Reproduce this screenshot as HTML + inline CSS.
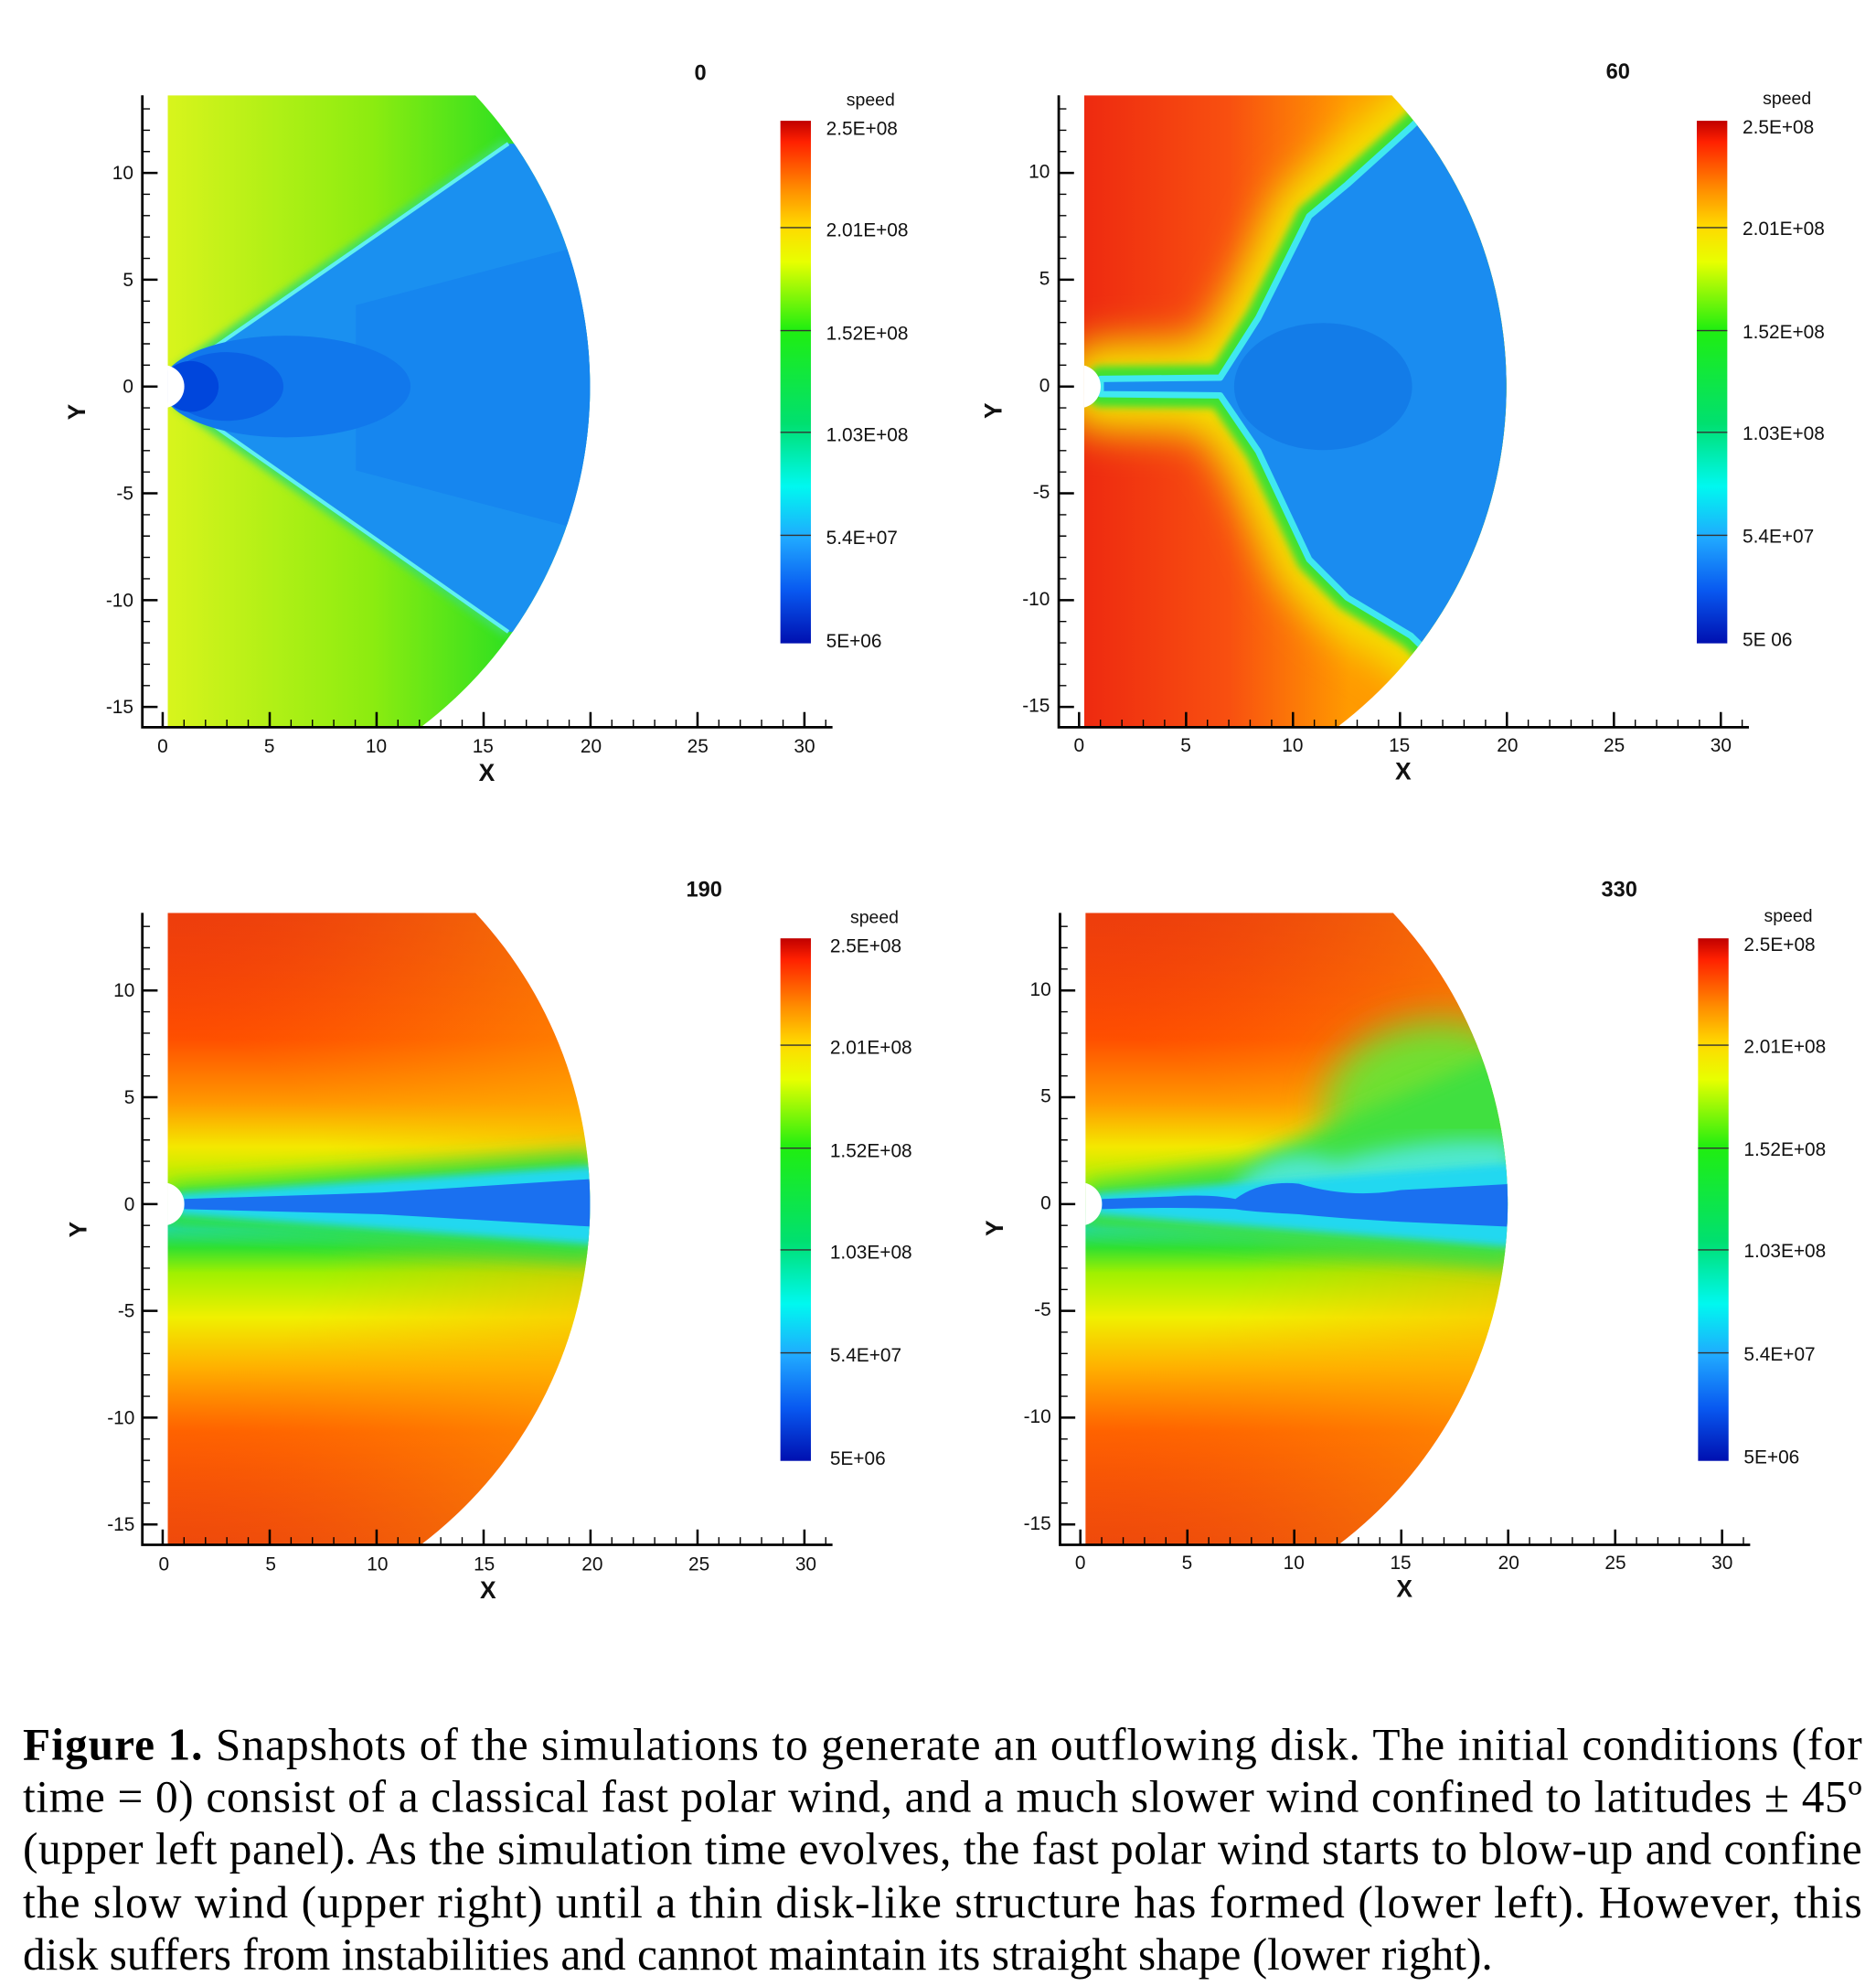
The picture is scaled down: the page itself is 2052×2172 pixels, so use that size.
<!DOCTYPE html>
<html><head><meta charset="utf-8"><style>html,body{margin:0;padding:0;background:#fff}svg{display:block}</style></head><body>
<svg xmlns="http://www.w3.org/2000/svg" width="2052" height="2172" viewBox="0 0 1476 1562" preserveAspectRatio="none" font-family="Liberation Sans, sans-serif">
<defs>
<clipPath id="clip"><path d="M132,75 L374,75 A336,336 0 0 1 331,572 L132,572 Z"/></clipPath>
<filter id="b3" x="-20%" y="-20%" width="140%" height="140%"><feGaussianBlur stdDeviation="3"/></filter>
<filter id="b8" x="-20%" y="-20%" width="140%" height="140%"><feGaussianBlur stdDeviation="8"/></filter>
<filter id="b15" x="-30%" y="-30%" width="160%" height="160%"><feGaussianBlur stdDeviation="15"/></filter>
<linearGradient id="cb" x1="0" y1="0" x2="0" y2="1">
<stop offset="0" stop-color="#c00000"/><stop offset="0.04" stop-color="#ff2000"/><stop offset="0.13" stop-color="#ff8c00"/><stop offset="0.2" stop-color="#ffd800"/><stop offset="0.27" stop-color="#e8ff00"/><stop offset="0.4" stop-color="#20ee10"/><stop offset="0.58" stop-color="#00e070"/><stop offset="0.7" stop-color="#00f8f0"/><stop offset="0.8" stop-color="#20a8ff"/><stop offset="0.9" stop-color="#0858f0"/><stop offset="1" stop-color="#0010b0"/></linearGradient>
<linearGradient id="g1" gradientUnits="userSpaceOnUse" x1="132" y1="0" x2="400" y2="0"><stop offset="0" stop-color="#d8f41c"/><stop offset="0.6" stop-color="#8cec10"/><stop offset="1" stop-color="#30e020"/></linearGradient>
<linearGradient id="g2" gradientUnits="userSpaceOnUse" x1="132" y1="0" x2="340" y2="0"><stop offset="0" stop-color="#ee2a10"/><stop offset="0.55" stop-color="#f85010"/><stop offset="1" stop-color="#ff9a00"/></linearGradient>
<linearGradient id="g3" gradientUnits="userSpaceOnUse" x1="0" y1="75" x2="0" y2="572">
<stop offset="0" stop-color="#e82010"/><stop offset="0.2" stop-color="#ff5000"/><stop offset="0.3" stop-color="#ff9800"/><stop offset="0.37" stop-color="#f4e800"/><stop offset="0.43" stop-color="#b0f000"/><stop offset="0.47" stop-color="#30e030"/><stop offset="0.5" stop-color="#20d8a0"/><stop offset="0.53" stop-color="#30e030"/><stop offset="0.57" stop-color="#a0f000"/><stop offset="0.64" stop-color="#f0f000"/><stop offset="0.72" stop-color="#ffb000"/><stop offset="0.82" stop-color="#ff5a00"/><stop offset="1" stop-color="#e82010"/></linearGradient>
<radialGradient id="rY" gradientUnits="userSpaceOnUse" cx="128" cy="304" r="340"><stop offset="0.4" stop-color="#ffb000" stop-opacity="0"/><stop offset="1" stop-color="#ffb000" stop-opacity="0.45"/></radialGradient>
<g id="ticks" stroke="#000" fill="none">
<path d="M112,75 V572 H655" stroke-width="2"/>
<path d="M128,572V560M212.2,572V560M296.3,572V560M380.5,572V560M464.6,572V560M548.8,572V560M632.9,572V560M112,136H124M112,220H124M112,304H124M112,388H124M112,472H124M112,556H124" stroke-width="1.8"/>
<path d="M144.8,572v-6M161.7,572v-6M178.5,572v-6M195.3,572v-6M229,572v-6M245.8,572v-6M262.6,572v-6M279.5,572v-6M313.1,572v-6M330,572v-6M346.8,572v-6M363.6,572v-6M397.3,572v-6M414.1,572v-6M430.9,572v-6M447.8,572v-6M481.4,572v-6M498.3,572v-6M515.1,572v-6M531.9,572v-6M565.6,572v-6M582.4,572v-6M599.2,572v-6M616.1,572v-6M649.7,572v-6M112,85.6h6M112,102.4h6M112,119.2h6M112,152.8h6M112,169.6h6M112,186.4h6M112,203.2h6M112,236.8h6M112,253.6h6M112,270.4h6M112,287.2h6M112,320.8h6M112,337.6h6M112,354.4h6M112,371.2h6M112,404.8h6M112,421.6h6M112,438.4h6M112,455.2h6M112,488.8h6M112,505.6h6M112,522.4h6M112,539.2h6" stroke-width="1"/>
</g>
<g id="cbar"><rect x="614" y="95" width="24" height="411" fill="url(#cb)"/>
<path d="M614,179H638M614,260H638M614,340H638M614,421H638" stroke="#333" stroke-width="1"/></g>
</defs>

<!-- Panel 1 -->
<g>
<g clip-path="url(#clip)">
<rect x="100" y="60" width="420" height="530" fill="url(#g1)"/>
<path d="M140,292 L400,113" stroke="#40e060" stroke-width="10" filter="url(#b3)"/>
<path d="M140,316 L400,497" stroke="#40e060" stroke-width="10" filter="url(#b3)"/>
<polygon points="136,296 400,113 520,113 520,497 400,497 136,312" fill="#1a90f0"/>
<path d="M140,293 L400,113 M140,315 L400,497" stroke="#60f0f0" stroke-width="3"/>
<polygon points="280,240 470,190 470,420 280,370" fill="#1686ef"/>
<ellipse cx="225" cy="304" rx="98" ry="40" fill="#1178ec"/>
<ellipse cx="178" cy="304" rx="45" ry="27" fill="#0a62e6"/>
<ellipse cx="150" cy="304" rx="22" ry="20" fill="#0046dc"/>
<circle cx="128" cy="304" r="17" fill="#fff"/>
</g>
<use href="#ticks"/>
<use href="#cbar"/>
</g>

<!-- Panel 2 -->
<g transform="translate(721,0)">
<g clip-path="url(#clip)">
<rect x="100" y="60" width="420" height="530" fill="url(#g2)"/>
<path d="M145,298 L239,297 L269,250 L309,170 L339,145 L389,100 L430,60 L520,60 L520,560 L430,540 L389,500 L339,470 L309,440 L269,355 L239,311 L145,310 Z" fill="#f4e000" stroke="#f4e000" stroke-width="60" stroke-linejoin="round" filter="url(#b15)"/>
<path d="M145,298 L239,297 L269,250 L309,170 L339,145 L389,100 L430,60 L520,60 L520,560 L430,540 L389,500 L339,470 L309,440 L269,355 L239,311 L145,310 Z" fill="#40e030" stroke="#40e030" stroke-width="20" stroke-linejoin="round" filter="url(#b3)"/>
<path d="M145,298 L239,297 L269,250 L309,170 L339,145 L389,100 L430,60 L520,60 L520,560 L430,540 L389,500 L339,470 L309,440 L269,355 L239,311 L145,310 Z" fill="#1a8cf0" stroke="#40e8f0" stroke-width="5" stroke-linejoin="round"/>
<ellipse cx="320" cy="304" rx="70" ry="50" fill="#137ce8"/>
<circle cx="128" cy="304" r="17" fill="#fff"/>
</g>
<use href="#ticks"/>
<use href="#cbar"/>
</g>

<!-- Panel 3 -->
<g transform="translate(0,643)">
<g clip-path="url(#clip)">
<rect x="100" y="60" width="420" height="530" fill="url(#g3)"/>
<rect x="100" y="60" width="420" height="530" fill="url(#rY)"/>
<polygon points="132,290 470,262 470,350 132,318" fill="#30e040" filter="url(#b8)"/>
<polygon points="140,296 470,274 470,336 140,312" fill="#20d8f0" filter="url(#b3)"/>
<polygon points="145,300 300,295 470,284 470,322 300,312 145,308" fill="#1a70f0"/>
<circle cx="128" cy="304" r="17" fill="#fff"/>
</g>
<use href="#ticks"/>
<use href="#cbar"/>
</g>

<!-- Panel 4 -->
<g transform="translate(722,643)">
<g clip-path="url(#clip)">
<rect x="100" y="60" width="420" height="530" fill="url(#g3)"/>
<rect x="100" y="60" width="420" height="530" fill="url(#rY)"/>
<ellipse cx="410" cy="230" rx="90" ry="70" fill="#70e030" filter="url(#b15)"/>
<polygon points="132,288 260,270 470,180 470,355 132,320" fill="#40e040" filter="url(#b8)"/>
<path d="M250,290 Q280,255 330,270 Q400,250 470,255 L470,300 L250,300 Z" fill="#50e8d0" filter="url(#b8)"/>
<polygon points="140,296 470,272 470,338 140,312" fill="#20d8f0" filter="url(#b3)"/>
<path d="M145,300 L200,298 Q230,296 250,300 Q270,285 300,288 Q340,300 380,293 L470,288 L470,322 L380,318 Q330,315 300,312 Q260,310 250,308 Q200,306 145,308 Z" fill="#1a70f0"/>
<circle cx="128" cy="304" r="17" fill="#fff"/>
</g>
<use href="#ticks"/>
<use href="#cbar"/>
</g>

<!-- Labels -->
<g font-size="15" fill="#111">
<g text-anchor="end"><text x="105" y="141">10</text><text x="105" y="225">5</text><text x="105" y="309">0</text><text x="105" y="393">-5</text><text x="105" y="477">-10</text><text x="105" y="561">-15</text></g>
<g text-anchor="middle"><text x="128" y="592">0</text><text x="212" y="592">5</text><text x="296" y="592">10</text><text x="380" y="592">15</text><text x="465" y="592">20</text><text x="549" y="592">25</text><text x="633" y="592">30</text></g>
<text x="383" y="614" text-anchor="middle" font-weight="bold" font-size="19">X</text>
<text transform="translate(67,324) rotate(-90)" text-anchor="middle" font-weight="bold" font-size="19">Y</text>
<text x="685" y="83" text-anchor="middle" font-size="14">speed</text>
<text x="650" y="106">2.5E+08</text><text x="650" y="186">2.01E+08</text><text x="650" y="267">1.52E+08</text><text x="650" y="347">1.03E+08</text><text x="650" y="428">5.4E+07</text><text x="650" y="509">5E+06</text>
<text x="551" y="63" text-anchor="middle" font-weight="bold" font-size="17">0</text>
</g>
<g font-size="15" fill="#111" transform="translate(721,-1)">
<g text-anchor="end"><text x="105" y="141">10</text><text x="105" y="225">5</text><text x="105" y="309">0</text><text x="105" y="393">-5</text><text x="105" y="477">-10</text><text x="105" y="561">-15</text></g>
<g text-anchor="middle"><text x="128" y="592">0</text><text x="212" y="592">5</text><text x="296" y="592">10</text><text x="380" y="592">15</text><text x="465" y="592">20</text><text x="549" y="592">25</text><text x="633" y="592">30</text></g>
<text x="383" y="614" text-anchor="middle" font-weight="bold" font-size="19">X</text>
<text transform="translate(67,324) rotate(-90)" text-anchor="middle" font-weight="bold" font-size="19">Y</text>
<text x="685" y="83" text-anchor="middle" font-size="14">speed</text>
<text x="650" y="106">2.5E+08</text><text x="650" y="186">2.01E+08</text><text x="650" y="267">1.52E+08</text><text x="650" y="347">1.03E+08</text><text x="650" y="428">5.4E+07</text><text x="650" y="509">5E 06</text>
<text x="552" y="63" text-anchor="middle" font-weight="bold" font-size="17">60</text>
</g>
<g font-size="15" fill="#111" transform="translate(1,643)">
<g text-anchor="end"><text x="105" y="141">10</text><text x="105" y="225">5</text><text x="105" y="309">0</text><text x="105" y="393">-5</text><text x="105" y="477">-10</text><text x="105" y="561">-15</text></g>
<g text-anchor="middle"><text x="128" y="592">0</text><text x="212" y="592">5</text><text x="296" y="592">10</text><text x="380" y="592">15</text><text x="465" y="592">20</text><text x="549" y="592">25</text><text x="633" y="592">30</text></g>
<text x="383" y="614" text-anchor="middle" font-weight="bold" font-size="19">X</text>
<text transform="translate(67,324) rotate(-90)" text-anchor="middle" font-weight="bold" font-size="19">Y</text>
<text x="687" y="83" text-anchor="middle" font-size="14">speed</text>
<text x="652" y="106">2.5E+08</text><text x="652" y="186">2.01E+08</text><text x="652" y="267">1.52E+08</text><text x="652" y="347">1.03E+08</text><text x="652" y="428">5.4E+07</text><text x="652" y="509">5E+06</text>
<text x="553" y="62" text-anchor="middle" font-weight="bold" font-size="17">190</text>
</g>
<g font-size="15" fill="#111" transform="translate(722,642)">
<g text-anchor="end"><text x="105" y="141">10</text><text x="105" y="225">5</text><text x="105" y="309">0</text><text x="105" y="393">-5</text><text x="105" y="477">-10</text><text x="105" y="561">-15</text></g>
<g text-anchor="middle"><text x="128" y="592">0</text><text x="212" y="592">5</text><text x="296" y="592">10</text><text x="380" y="592">15</text><text x="465" y="592">20</text><text x="549" y="592">25</text><text x="633" y="592">30</text></g>
<text x="383" y="614" text-anchor="middle" font-weight="bold" font-size="19">X</text>
<text transform="translate(67,324) rotate(-90)" text-anchor="middle" font-weight="bold" font-size="19">Y</text>
<text x="685" y="83" text-anchor="middle" font-size="14">speed</text>
<text x="650" y="106">2.5E+08</text><text x="650" y="186">2.01E+08</text><text x="650" y="267">1.52E+08</text><text x="650" y="347">1.03E+08</text><text x="650" y="428">5.4E+07</text><text x="650" y="509">5E+06</text>
<text x="552" y="63" text-anchor="middle" font-weight="bold" font-size="17">330</text>
</g>

<!-- Caption -->
<g font-family="Liberation Serif, serif" font-size="35.5" fill="#000">
<text x="18" y="1384" textLength="1447" lengthAdjust="spacing"><tspan font-weight="bold">Figure 1.</tspan> Snapshots of the simulations to generate an outflowing disk. The initial conditions (for</text>
<text x="18" y="1425" textLength="1447" lengthAdjust="spacing">time = 0) consist of a classical fast polar wind, and a much slower wind confined to latitudes ± 45º</text>
<text x="18" y="1466" textLength="1447" lengthAdjust="spacing">(upper left panel).  As the simulation time evolves, the fast polar wind starts to blow-up and confine</text>
<text x="18" y="1508" textLength="1447" lengthAdjust="spacing">the slow wind (upper right) until a thin disk-like structure has formed (lower left). However, this</text>
<text x="18" y="1549">disk suffers from instabilities and cannot maintain its straight shape (lower right).</text>
</g>
</svg>
</body></html>
